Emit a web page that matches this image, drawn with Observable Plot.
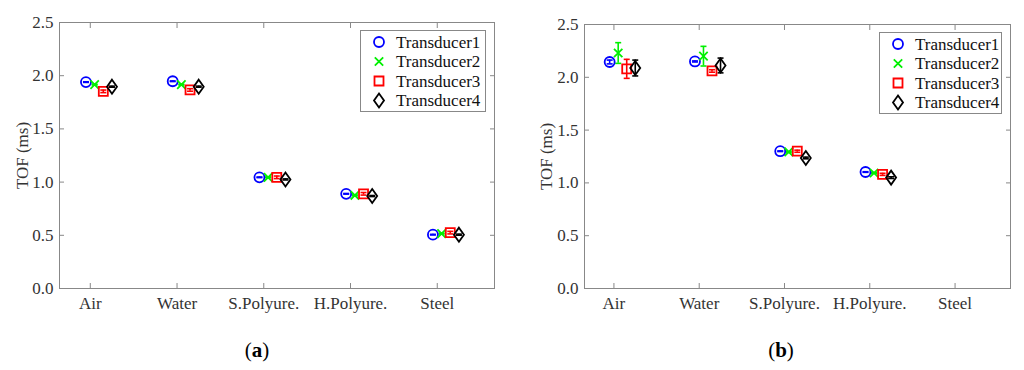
<!DOCTYPE html>
<html><head><meta charset="utf-8">
<script src="https://cdn.jsdelivr.net/npm/d3@7"></script>
<script src="https://cdn.jsdelivr.net/npm/@observablehq/plot@0.6"></script>
<style>
body{margin:0;background:#fff;width:1024px;height:370px;overflow:hidden;font-family:"Liberation Serif","Times New Roman",Times,serif}
#row{display:flex;position:relative;width:1024px;height:320px}
.panel{position:relative;width:512px;height:320px}
.panel svg.leg{position:absolute;left:0;top:0;overflow:visible}
.panel svg text{font-family:"Liberation Serif","Times New Roman",Times,serif}
.cap{position:absolute;top:338px;font-size:21px;color:#000;transform:translateX(-50%)}
</style></head><body>
<div id="row"><div class="panel" id="pa"></div><div class="panel" id="pb"></div></div>
<div class="cap" style="left:257px">(<b>a</b>)</div>
<div class="cap" style="left:781px">(<b>b</b>)</div>
<script>
const categories = ["Air", "Water", "S.Polyure.", "H.Polyure.", "Steel"];
const series = ["Transducer1", "Transducer2", "Transducer3", "Transducer4"];
const yTicks = [0, 0.5, 1.0, 1.5, 2.0, 2.5];

// (a) TOF values (ms)
const a_t1 = [1.940, 1.948, 1.045, 0.890, 0.506];
const a_t2 = [1.916, 1.916, 1.045, 0.876, 0.516];
const a_t3 = [1.853, 1.866, 1.045, 0.890, 0.525];
const a_t4 = [1.897, 1.897, 1.025, 0.869, 0.506];
const a_e1 = [0.003, 0.003, 0.003, 0.003, 0.003];
const a_e2 = [0.004, 0.004, 0.004, 0.004, 0.004];
const a_e3 = [0.012, 0.012, 0.012, 0.012, 0.012];
const a_e4 = [0.005, 0.005, 0.005, 0.005, 0.005];

// (b) TOF values (ms); no data for Steel
const b_t1 = [2.145, 2.150, 1.300, 1.103, null];
const b_t2 = [2.230, 2.200, 1.293, 1.094, null];
const b_t3 = [2.080, 2.060, 1.300, 1.081, null];
const b_t4 = [2.088, 2.112, 1.236, 1.050, null];
const b_e1 = [0.018, 0.005, 0.003, 0.003, null];
const b_e2 = [0.098, 0.093, 0.004, 0.004, null];
const b_e3 = [0.090, 0.012, 0.010, 0.010, null];
const b_e4 = [0.075, 0.070, 0.008, 0.008, null];

const colors = ["#0000ff", "#00f000", "#ff0000", "#000000"];
const offsets = [-0.05, 0.05, 0.15, 0.25];
const FONT = "'Liberation Serif', 'Times New Roman', Times, serif";

// marker shapes (MATLAB-like)
const symCircle = {draw(c) { c.moveTo(5, 0); c.arc(0, 0, 5, 0, 2 * Math.PI); }};
const symTimes = {draw(c) { c.moveTo(-4.2, -4.2); c.lineTo(4.2, 4.2); c.moveTo(-4.2, 4.2); c.lineTo(4.2, -4.2); }};
const symSquare = {draw(c) { c.rect(-4.5, -4.5, 9, 9); }};
const symDiamond = {draw(c) { c.moveTo(0, -7); c.lineTo(5, 0); c.lineTo(0, 7); c.lineTo(-5, 0); c.closePath(); }};
const symbols = [symCircle, symTimes, symSquare, symDiamond];
const capSymbol = {draw(c) { c.moveTo(-3, 0); c.lineTo(3, 0); }};

function rowsOf(vals, errs) {
  const out = [];
  vals.forEach((arr, si) => arr.forEach((v, ci) => {
    if (v == null) return;
    out.push({s: series[si], x: ci + 1 + offsets[si], y: v, e: errs[si][ci]});
  }));
  return out;
}

function makePanel(el, vals, errs, m, xdom, legPos) {
  const rows = rowsOf(vals, errs);
  const xt = categories.map((d, i) => i + 1);
  const plot = Plot.plot({
    width: 512, height: 320,
    marginLeft: m[0], marginRight: m[1], marginTop: m[2], marginBottom: m[3],
    style: {fontFamily: FONT, fontSize: "17px", color: "#333", background: "white", overflow: "visible"},
    x: {type: "linear", domain: xdom},
    y: {domain: [0, 2.5]},
    color: {domain: series, range: colors},
    symbol: {domain: series, range: symbols},
    marks: [
      Plot.axisY(yTicks, {anchor: "left", tickSize: -5, tickFormat: () => "", stroke: "#888", label: null}),
      Plot.axisY(yTicks, {anchor: "right", tickSize: -5, tickFormat: () => "", stroke: "#888", label: null}),
      Plot.axisX(xt, {anchor: "bottom", tickSize: -5, tickFormat: () => "", stroke: "#888", label: null}),
      Plot.axisX(xt, {anchor: "top", tickSize: -5, tickFormat: () => "", stroke: "#888", label: null}),
      Plot.axisY(yTicks, {anchor: "left", tickSize: 0, tickPadding: 6, tickFormat: d3.format(".1f"), fill: "#333",
        label: "TOF (ms)", labelArrow: "none", labelAnchor: "center", labelOffset: m[4]}),
      Plot.axisX(xt, {anchor: "bottom", tickSize: 0, tickPadding: 8, tickFormat: i => categories[i - 1], fill: "#333", label: null}),
      Plot.frame({stroke: "#888"}),
      Plot.ruleX(rows, {x: "x", y1: d => d.y - d.e, y2: d => d.y + d.e, stroke: "s", strokeWidth: 1.6}),
      Plot.dot(rows, {x: "x", y: d => d.y - d.e, symbol: capSymbol, stroke: "s", strokeWidth: 1.6}),
      Plot.dot(rows, {x: "x", y: d => d.y + d.e, symbol: capSymbol, stroke: "s", strokeWidth: 1.6}),
      Plot.dot(rows, {x: "x", y: "y", symbol: "s", stroke: "s", r: 5, strokeWidth: 1.8, fill: "none"})
    ]
  });
  el.appendChild(plot);

  // legend
  const [lx, ly, lw, lh, gap] = legPos;
  const svg = d3.select(el).append("svg").attr("class", "leg").attr("width", 512).attr("height", 320);
  svg.append("rect").attr("x", lx + 0.5).attr("y", ly + 0.5).attr("width", lw).attr("height", lh)
    .attr("fill", "white").attr("stroke", "#888");
  series.forEach((s, i) => {
    const cy = ly + 12 + i * gap;
    svg.append("path").attr("transform", `translate(${lx + 19},${cy})`)
      .attr("d", d3.symbol(symbols[i])()).attr("fill", "none")
      .attr("stroke", colors[i]).attr("stroke-width", 1.8);
    svg.append("text").attr("x", lx + 36).attr("y", cy).attr("dy", "0.35em")
      .attr("font-family", FONT).attr("font-size", 17).attr("fill", "#111").text(s);
  });
}

makePanel(document.getElementById("pa"), [a_t1, a_t2, a_t3, a_t4], [a_e1, a_e2, a_e3, a_e4],
  [59, 18, 22, 32, 44], [0.645, 5.66], [360, 30, 125, 81, 19.5]);
makePanel(document.getElementById("pb"), [b_t1, b_t2, b_t3, b_t4], [b_e1, b_e2, b_e3, b_e4],
  [72, 14, 24, 32, 45], [0.655, 5.65], [367, 32, 122, 81, 19.5]);
</script>
</body></html>
